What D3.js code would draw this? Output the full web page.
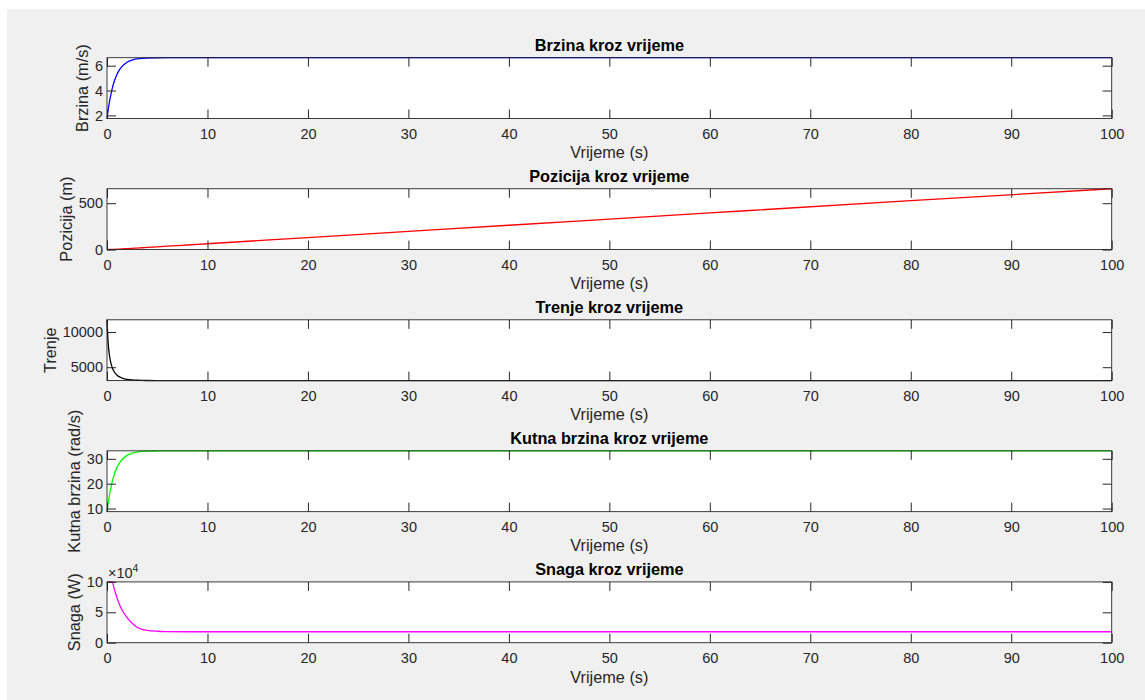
<!DOCTYPE html>
<html>
<head>
<meta charset="utf-8">
<script src="https://cdn.jsdelivr.net/npm/d3@7"></script>
<style>
  html, body { margin: 0; padding: 0; background: #fff; }
  svg { display: block; }
</style>
</head>
<body>
<div id="chart"></div>
<script>
(function () {
  'use strict';

  // vrijeme (s) -- zajednicka os za sve grafove
  var vrijeme = [0, 0.1, 0.25, 0.5, 0.75, 1, 1.25, 1.5, 2, 2.5, 3, 3.5, 4, 5, 6, 8, 10, 20, 40, 60, 80, 100];

  var brzina = [1.75, 2.35, 3.10, 4.09, 4.80, 5.31, 5.68, 5.94, 6.28, 6.45, 6.54, 6.59, 6.61, 6.63, 6.64, 6.64, 6.64, 6.64, 6.64, 6.64, 6.64, 6.64];
  var pozicija = [0, 0.2, 0.6, 1.5, 2.6, 3.9, 5.3, 6.7, 9.8, 13.0, 16.2, 19.5, 22.8, 29.4, 36.0, 49.3, 62.6, 129, 262, 395, 527, 656];
  var trenje = [11742, 8744, 6628, 5024, 4281, 3870, 3618, 3459, 3272, 3186, 3142, 3118, 3109, 3099, 3095, 3095, 3095, 3095, 3095, 3095, 3095, 3095];
  var kutnaBrzina = [8.75, 11.75, 15.5, 20.45, 24.0, 26.55, 28.4, 29.7, 31.4, 32.25, 32.7, 32.95, 33.05, 33.15, 33.2, 33.2, 33.2, 33.2, 33.2, 33.2, 33.2, 33.2];
  var snaga = [100000, 100000, 100000, 100000, 86900, 73500, 62600, 53900, 41300, 32000, 25500, 22000, 20300, 18800, 18300, 18000, 18000, 18000, 18000, 18000, 18000, 18000];

  var xTicks = [0, 10, 20, 30, 40, 50, 60, 70, 80, 90, 100];
  var brzinaTicks = [2, 4, 6];
  var pozicijaTicks = [0, 500];
  var trenjeTicks = [5000, 10000];
  var kutnaTicks = [10, 20, 30];
  var snagaTicks = [0, 50000, 100000];

  var panels = [
    { title: 'Brzina kroz vrijeme', ylabel: 'Brzina (m/s)', values: brzina, ticks: brzinaTicks, color: '#0000ff' },
    { title: 'Pozicija kroz vrijeme', ylabel: 'Pozicija (m)', values: pozicija, ticks: pozicijaTicks, color: '#ff0000' },
    { title: 'Trenje kroz vrijeme', ylabel: 'Trenje', values: trenje, ticks: trenjeTicks, color: '#000000' },
    { title: 'Kutna brzina kroz vrijeme', ylabel: 'Kutna brzina (rad/s)', values: kutnaBrzina, ticks: kutnaTicks, color: '#00ff00' },
    { title: 'Snaga kroz vrijeme', ylabel: 'Snaga (W)', values: snaga, ticks: snagaTicks, color: '#ff00ff', fromZero: true, exponent: 4 }
  ];

  var width = 1145;
  var height = 700;
  var left = 107;
  var right = 1111.7;
  var firstTop = 57.7;
  var step = 131.05;
  var panelH = 60.8;
  var tickLen = 9;
  var axisColor = '#262626';
  var tickFont = 14.5;
  var labelFont = 16.3;
  var font = '"Liberation Sans", Arial, Helvetica, sans-serif';

  var svg = d3.select('#chart').append('svg')
    .attr('width', width).attr('height', height)
    .attr('font-family', font);

  svg.append('rect').attr('x', 7).attr('y', 9)
    .attr('width', width - 7).attr('height', height - 9)
    .attr('fill', '#f0f0f0');

  var x = d3.scaleLinear().domain([0, 100]).range([left, right]);

  panels.forEach(function (p, i) {
    var top = firstTop + i * step;
    var bottom = top + panelH;
    var ext = d3.extent(p.values);
    if (p.fromZero) ext = [0, ext[1]];
    var y = d3.scaleLinear().domain(ext).range([bottom, top]);
    var scale = p.exponent ? Math.pow(10, p.exponent) : 1;

    var g = svg.append('g');

    g.append('rect')
      .attr('x', left).attr('y', top)
      .attr('width', right - left).attr('height', panelH)
      .attr('fill', '#fff');

    var line = d3.line()
      .x(function (d, k) { return x(vrijeme[k]); })
      .y(function (d) { return y(d); })
      .curve(d3.curveMonotoneX);

    g.append('path')
      .datum(p.values)
      .attr('fill', 'none')
      .attr('stroke', p.color)
      .attr('stroke-width', 1.3)
      .attr('d', line);

    // x osi: dolje s oznakama, gore samo crtice
    g.append('g')
      .attr('transform', 'translate(0,' + bottom + ')')
      .call(d3.axisBottom(x).tickValues(xTicks).tickSizeInner(-tickLen).tickSizeOuter(0).tickPadding(10))
      .call(function (a) {
        a.select('.domain').remove();
        a.selectAll('line').attr('stroke', axisColor);
        a.selectAll('text').attr('fill', axisColor).attr('font-size', tickFont).attr('font-family', font);
      });
    g.append('g')
      .attr('transform', 'translate(0,' + top + ')')
      .call(d3.axisTop(x).tickValues(xTicks).tickSizeInner(-tickLen).tickSizeOuter(0).tickFormat(''))
      .call(function (a) {
        a.select('.domain').remove();
        a.selectAll('line').attr('stroke', axisColor);
      });

    // y osi
    var yAxis = g.append('g')
      .attr('transform', 'translate(' + left + ',0)')
      .call(d3.axisLeft(y).tickValues(p.ticks).tickSizeInner(-tickLen).tickSizeOuter(0).tickPadding(4)
        .tickFormat(function (d) { return String(d / scale); }))
      .call(function (a) {
        a.select('.domain').remove();
        a.selectAll('line').attr('stroke', axisColor);
        a.selectAll('text').attr('fill', axisColor).attr('font-size', tickFont).attr('font-family', font);
      });
    g.append('g')
      .attr('transform', 'translate(' + right + ',0)')
      .call(d3.axisRight(y).tickValues(p.ticks).tickSizeInner(-tickLen).tickSizeOuter(0).tickFormat(''))
      .call(function (a) {
        a.select('.domain').remove();
        a.selectAll('line').attr('stroke', axisColor);
      });

    g.append('rect')
      .attr('x', left).attr('y', top)
      .attr('width', right - left).attr('height', panelH)
      .attr('fill', 'none')
      .attr('stroke', axisColor)
      .attr('stroke-width', 0.9);

    var labelLeft = d3.min(yAxis.selectAll('text').nodes(), function (n) { return n.getBBox().x; }) + left;

    g.append('text')
      .attr('transform', 'translate(' + (labelLeft - 7) + ',' + (top + panelH / 2) + ') rotate(-90)')
      .attr('text-anchor', 'middle')
      .attr('font-size', labelFont)
      .attr('fill', axisColor)
      .text(p.ylabel);

    g.append('text')
      .attr('x', (left + right) / 2)
      .attr('y', bottom + 39.8)
      .attr('text-anchor', 'middle')
      .attr('font-size', labelFont)
      .attr('fill', axisColor)
      .text('Vrijeme (s)');

    g.append('text')
      .attr('x', (left + right) / 2)
      .attr('y', top - 6.7)
      .attr('text-anchor', 'middle')
      .attr('font-size', 16.3)
      .attr('font-weight', 'bold')
      .attr('fill', '#000')
      .text(p.title);

    if (p.exponent) {
      var ex = g.append('text')
        .attr('x', left + 1)
        .attr('y', top - 3.8)
        .attr('font-size', tickFont)
        .attr('fill', axisColor);
      ex.append('tspan').text('\u00d710');
      ex.append('tspan').attr('dy', -6.5).attr('font-size', 10.5).text(p.exponent);
    }
  });
})();
</script>
</body>
</html>
